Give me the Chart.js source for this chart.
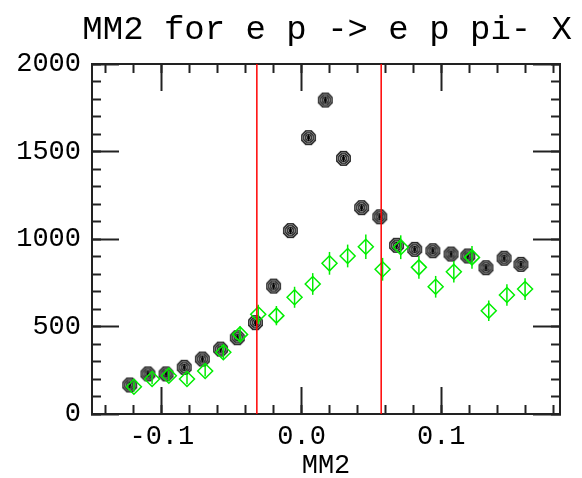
<!DOCTYPE html>
<html>
<head>
<meta charset="utf-8">
<script src="https://cdn.jsdelivr.net/npm/chart.js@4/dist/chart.umd.min.js"></script>
<style>
  html, body { margin: 0; padding: 0; background: #ffffff; }
  #wrap { width: 582px; height: 478px; }
</style>
</head>
<body>
<div id="wrap"><canvas id="c" width="582" height="478"></canvas></div>
<script>
// ---- data ----
const titleText = 'MM2 for e p -> e p pi- X';
const xTitle = 'MM2';

const blackX = [-0.123, -0.110, -0.097, -0.084, -0.071, -0.058, -0.046, -0.033, -0.020, -0.008,
                 0.005, 0.017, 0.030, 0.043, 0.056, 0.068, 0.081, 0.094, 0.107, 0.119, 0.132, 0.145, 0.157];
const blackY = [166, 229, 229, 267, 314, 371, 436, 522, 731, 1048,
                1579, 1794, 1461, 1179, 1127, 964, 941, 933, 914, 903, 836, 890, 855];

const greenX = [-0.120, -0.107, -0.095, -0.082, -0.069, -0.056, -0.044, -0.031, -0.018, -0.005,
                 0.008, 0.020, 0.033, 0.046, 0.058, 0.071, 0.084, 0.096, 0.109, 0.122, 0.134, 0.147, 0.160];
const greenY = [156, 200, 219, 200, 246, 353, 455, 570, 562, 667,
                743, 861, 903, 956, 827, 953, 838, 727, 813, 895, 590, 680, 714];
const greenErr = [28, 30, 30, 30, 32, 38, 45, 55, 55, 60,
                  62, 65, 65, 70, 65, 68, 65, 62, 62, 65, 58, 62, 62];

const cutLines = [-0.032, 0.057];

const xRange = [-0.15, 0.185];
const yRange = [0, 2000];
const xMajorStep = 0.1, xMinorStep = 0.02;
const yMajorStep = 500, yMinorStep = 100;

// ---- styling ----
const FONT = "'Liberation Mono', 'DejaVu Sans Mono', monospace";
const AXIS_COLOR = '#222222';

// concentric-octagon marker for the black series
function makeOctagonMarker() {
  const size = 17, c = document.createElement('canvas');
  c.width = size; c.height = size;
  const g = c.getContext('2d');
  const cx = size / 2, cy = size / 2;
  function oct(r) {
    g.beginPath();
    for (let k = 0; k < 8; k++) {
      const a = Math.PI / 8 + k * Math.PI / 4;
      const px = cx + r * Math.cos(a), py = cy + r * Math.sin(a);
      if (k === 0) g.moveTo(px, py); else g.lineTo(px, py);
    }
    g.closePath();
  }
  oct(8); g.fillStyle = '#1c1c1c'; g.fill();
  g.lineWidth = 1; g.strokeStyle = '#9a9a9a';
  oct(6.2); g.stroke();
  oct(4.2); g.stroke();
  oct(2.3); g.stroke();
  g.strokeStyle = '#000'; g.lineWidth = 1.2;
  g.beginPath(); g.moveTo(cx, cy - 3.5); g.lineTo(cx, cy + 3.5); g.stroke();
  return c;
}

const blackData = blackX.map((x, i) => ({ x: x, y: blackY[i] }));
const greenData = greenX.map((x, i) => ({ x: x, y: greenY[i] }));
const cutDatasets = cutLines.map(v => ({
  type: 'line',
  data: [{ x: v, y: yRange[0] }, { x: v, y: yRange[1] }],
  borderColor: '#ff0000', borderWidth: 1.5, pointRadius: 0, fill: false, order: 0
}));

const errorBars = {
  id: 'errorBars',
  afterDatasetDraw(chart, args) {
    if (args.index !== 1) return;
    const ctx = chart.ctx, ys = chart.scales.y;
    ctx.save();
    ctx.strokeStyle = '#00ee00';
    ctx.lineWidth = 1.5;
    args.meta.data.forEach((pt, i) => {
      const y1 = ys.getPixelForValue(greenY[i] - greenErr[i]);
      const y2 = ys.getPixelForValue(greenY[i] + greenErr[i]);
      ctx.beginPath(); ctx.moveTo(pt.x, y1); ctx.lineTo(pt.x, y2); ctx.stroke();
    });
    ctx.restore();
  }
};

function mkAxis(position, range, step, tickLen, weight, extra) {
  const horiz = (position === 'top' || position === 'bottom');
  const a = {
    type: 'linear', position: position, min: range[0], max: range[1], weight: weight,
    ticks: { display: false, stepSize: step, includeBounds: false, autoSkip: false },
    grid: { drawOnChartArea: false, drawTicks: true, tickLength: tickLen, tickColor: AXIS_COLOR, tickWidth: 2 },
    border: { display: true, color: AXIS_COLOR, width: 2 },
    afterFit: horiz ? (s => { s.height = 0; }) : (s => { s.width = 0; })
  };
  return Object.assign(a, extra || {});
}

const scales = {
  x: mkAxis('bottom', xRange, xMajorStep, -27, 1, {
    ticks: { display: true, stepSize: xMajorStep, includeBounds: false, autoSkip: false, maxRotation: 0,
             padding: 34, color: '#000', font: { family: FONT, size: 27 },
             callback: v => (Math.abs(v) < 1e-9 ? '0.0' : v.toFixed(1)) },
    title: { display: true, text: xTitle, color: '#000', padding: 0,
             font: { family: FONT, size: 27, lineHeight: 0.9 } },
    afterFit: s => { s.height = 64; }
  }),
  xMinor: mkAxis('bottom', xRange, xMinorStep, -9, 0),
  xTop: mkAxis('top', xRange, xMajorStep, -27, 1),
  xTopMinor: mkAxis('top', xRange, xMinorStep, -9, 0),
  y: mkAxis('left', yRange, yMajorStep, -27, 1, {
    ticks: { display: true, stepSize: yMajorStep, includeBounds: false, autoSkip: false,
             padding: 38, color: '#000', font: { family: FONT, size: 27 },
             callback: v => String(v) },
    afterFit: s => { s.width = 92; }
  }),
  yMinor: mkAxis('left', yRange, yMinorStep, -9, 0),
  yRight: mkAxis('right', yRange, yMajorStep, -27, 1, { afterFit: s => { s.width = 12; } }),
  yRightMinor: mkAxis('right', yRange, yMinorStep, -9, 0)
};

new Chart(document.getElementById('c'), {
  type: 'scatter',
  data: {
    datasets: [
      { data: blackData, pointStyle: makeOctagonMarker(), pointRadius: 8, order: 2 },
      { data: greenData, pointStyle: 'rectRot', pointRadius: 7.5, borderColor: '#00ee00',
        backgroundColor: 'rgba(0,0,0,0)', borderWidth: 1.5, order: 1 }
    ].concat(cutDatasets)
  },
  options: {
    responsive: false,
    animation: false,
    events: [],
    layout: { padding: { left: 0, right: 10, top: 0, bottom: 0 } },
    scales: scales,
    plugins: {
      legend: { display: false },
      tooltip: { enabled: false },
      title: {
        display: true, text: titleText, align: 'end', color: '#000',
        font: { family: FONT, size: 34, weight: 'normal', lineHeight: 1.2 },
        padding: { top: 10, bottom: 13.2 }
      }
    }
  },
  plugins: [errorBars]
});
</script>
</body>
</html>
